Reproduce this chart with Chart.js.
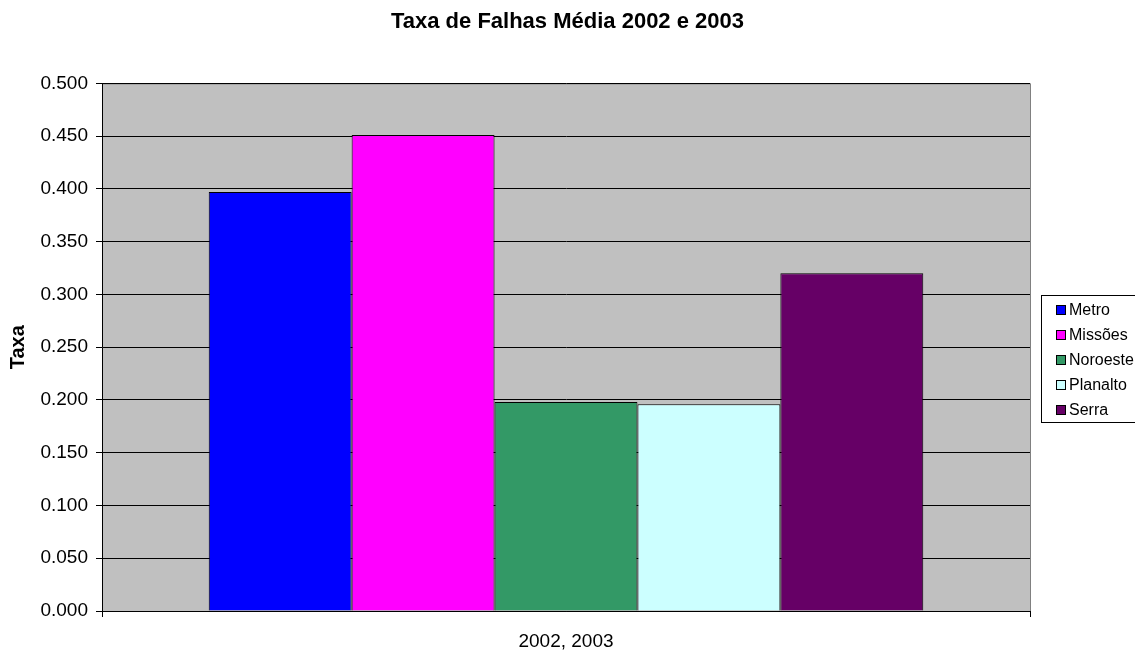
<!DOCTYPE html>
<html>
<head>
<meta charset="utf-8">
<script src="https://cdn.jsdelivr.net/npm/chart.js@4.4.1/dist/chart.umd.min.js"></script>
<style>
  html, body { margin: 0; padding: 0; background: #fff; }
  #wrap { width: 1135px; height: 650px; }
</style>
</head>
<body>
<div id="wrap"><canvas id="falhasChart" width="1135" height="650"></canvas></div>
<script>
const categories = ['2002, 2003'];
const regions = ['Metro', 'Missões', 'Noroeste', 'Planalto', 'Serra'];
const taxaMedia = [0.397, 0.451, 0.198, 0.196, 0.320];
const regionColors = ['#0000FF', '#FF00FF', '#339966', '#CCFFFF', '#660066'];
const yTicks = [0, 0.05, 0.1, 0.15, 0.2, 0.25, 0.3, 0.35, 0.4, 0.45, 0.5];

const FONT = '"Liberation Sans", Arial, sans-serif';

// grey plot background behind the bars
const plotBackground = {
    id: 'plotBackground',
    beforeDraw(chart) {
        const { ctx, chartArea: a } = chart;
        ctx.save();
        ctx.fillStyle = '#C0C0C0';
        ctx.fillRect(a.left, a.top, a.right - a.left, a.bottom - a.top);
        ctx.strokeStyle = '#808080';
        ctx.lineWidth = 1;
        ctx.strokeRect(a.left + 0.5, a.top + 0.5, a.right - a.left, a.bottom - a.top);
        ctx.restore();
    },
};

// boxed legend on the right side
const boxedLegend = {
    id: 'boxedLegend',
    afterDraw(chart) {
        const { ctx } = chart;
        const x = 1041.5, y = 295.5, w = 100, h = 127;
        ctx.save();
        ctx.fillStyle = '#fff';
        ctx.fillRect(x, y, w, h);
        ctx.strokeStyle = '#000';
        ctx.lineWidth = 1;
        ctx.strokeRect(x, y, w, h);
        ctx.font = '16px ' + FONT;
        ctx.textBaseline = 'middle';
        chart.data.datasets.forEach((ds, i) => {
            const cy = 310 + i * 25;
            ctx.fillStyle = ds.backgroundColor;
            ctx.fillRect(1056, cy - 5, 10, 10);
            ctx.strokeStyle = '#000';
            ctx.strokeRect(1056.5, cy - 4.5, 9, 9);
            ctx.fillStyle = '#000';
            ctx.fillText(ds.label, 1069, cy + 1);
        });
        ctx.restore();
    },
};

new Chart(document.getElementById('falhasChart'), {
    type: 'bar',
    data: {
        labels: categories,
        datasets: regions.map((name, i) => ({
            label: name,
            data: [taxaMedia[i]],
            backgroundColor: regionColors[i],
            borderColor: '#000',
            borderWidth: 1,
            categoryPercentage: 0.77,
            barPercentage: 1,
        })),
    },
    options: {
        responsive: false,
        animation: false,
        scales: {
            x: {
                grid: { drawOnChartArea: false, drawTicks: true, tickLength: 6, color: '#000' },
                border: { color: '#000' },
                ticks: { color: '#000', font: { family: FONT, size: 19 }, padding: 13 },
                afterFit(scale) { scale.height = 39; },
            },
            y: {
                min: 0,
                max: 0.5,
                afterBuildTicks(scale) { scale.ticks = yTicks.map(v => ({ value: v })); },
                grid: { color: '#000', tickLength: 6 },
                border: { color: '#000' },
                ticks: {
                    color: '#000',
                    font: { family: FONT, size: 19 },
                    padding: 8,
                    callback: v => Number(v).toFixed(3),
                },
                title: {
                    display: true,
                    text: 'Taxa',
                    color: '#000',
                    font: { family: FONT, size: 20, weight: 'bold' },
                    padding: { top: 6, bottom: 0 },
                },
                afterFit(scale) { scale.width = 102; },
            },
            // empty right-hand axis that reserves room for the legend box
            legendSpace: {
                type: 'linear',
                position: 'right',
                display: true,
                grid: { display: false },
                border: { display: false },
                ticks: { display: false },
                afterFit(scale) { scale.width = 105; },
            },
        },
        plugins: {
            legend: { display: false },
            tooltip: { enabled: false },
            title: {
                display: true,
                text: 'Taxa de Falhas Média 2002 e 2003',
                color: '#000',
                font: { family: FONT, size: 22, weight: 'bold' },
                padding: { top: 9, bottom: 48 },
            },
        },
    },
    plugins: [plotBackground, boxedLegend],
});
</script>
</body>
</html>
